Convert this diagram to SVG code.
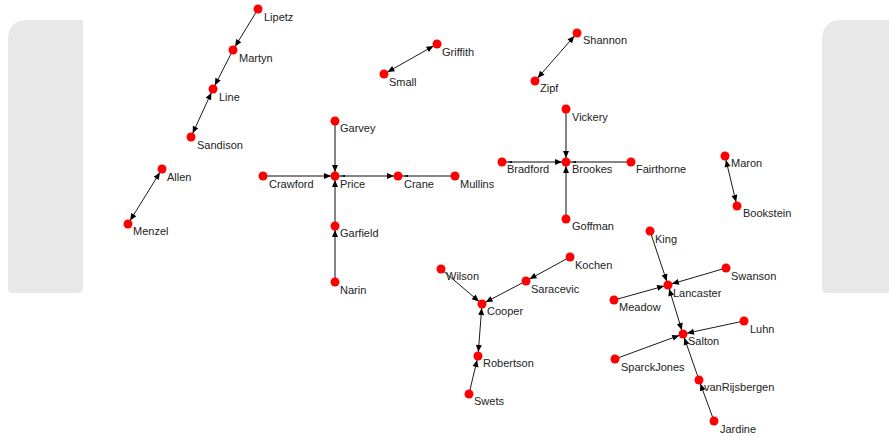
<svg xmlns="http://www.w3.org/2000/svg" width="889" height="437" viewBox="0 0 889 437">
<style>
.e{stroke:#1a1a1a;stroke-width:1;fill:none}
.g{stroke:#858585;stroke-width:2;fill:none}
.a{marker-end:url(#ah)}
.b{marker-start:url(#ah);marker-end:url(#ah)}
.n circle{fill:#ff0000}
.n text,text{font-family:"Liberation Sans",Arial,sans-serif;font-size:11px;fill:#222}
.panel{fill:#e8e8e8}
</style>
<defs>
<marker id="ah" markerUnits="userSpaceOnUse" markerWidth="12" markerHeight="8" refX="11" refY="3" orient="auto-start-reverse" overflow="visible">
<path d="M0,0 L7,3 L0,6 z" fill="#000"/>
</marker>
<marker id="tk" markerUnits="userSpaceOnUse" markerWidth="12" markerHeight="8" refX="10" refY="2" orient="auto-start-reverse" overflow="visible">
<path d="M0,1 L5,2 L0,3 z" fill="#000"/>
</marker>
</defs>
<rect width="889" height="437" fill="#ffffff"/>
<g id="panels">
<path class="panel" d="M8,40 Q8,20 28,20 L83,20 L83,288 Q83,293 78,293 L13,293 Q8,293 8,288 Z"/>
<path class="panel" d="M822,40 Q822,20 842,20 L889,20 L889,293 L827,293 Q822,293 822,288 Z"/>
</g>
<g id="connectors">
<line class="e a" x1="258" y1="9" x2="233" y2="50"/>
<line class="e a" x1="233" y1="50" x2="213" y2="89"/>
<line class="e b" x1="213" y1="89" x2="191" y2="137"/>
<line class="e b" x1="162" y1="169" x2="128" y2="224"/>
<line class="e b" x1="437" y1="44" x2="384" y2="74"/>
<line class="e b" x1="577" y1="33" x2="535" y2="81"/>
<line class="e b" x1="725" y1="156" x2="737" y2="206"/>
<line class="g a" x1="263" y1="176" x2="335" y2="176"/>
<line class="g a" x1="335" y1="121" x2="335" y2="176"/>
<line class="g a" x1="335" y1="226" x2="335" y2="176"/>
<line class="g a" x1="335" y1="282" x2="335" y2="226"/>
<line class="g a" x1="335" y1="176" x2="398" y2="176" marker-start="url(#tk)"/>
<line class="g" x1="455" y1="176" x2="398" y2="176" marker-end="url(#tk)"/>
<line class="g a" x1="502" y1="162" x2="566" y2="162" marker-start="url(#tk)"/>
<line class="g a" x1="566" y1="109" x2="566" y2="162"/>
<line class="g a" x1="566" y1="219" x2="566" y2="162"/>
<line class="g" x1="631" y1="162" x2="566" y2="162" marker-end="url(#tk)"/>
<line class="e a" x1="570" y1="257" x2="526" y2="281"/>
<line class="e a" x1="526" y1="281" x2="482" y2="304"/>
<line class="e a" x1="441" y1="269" x2="482" y2="304"/>
<line class="e b" x1="482" y1="304" x2="478" y2="356"/>
<line class="e a" x1="469" y1="394" x2="478" y2="356"/>
<line class="e a" x1="650" y1="231" x2="668" y2="285"/>
<line class="e a" x1="726" y1="268" x2="668" y2="285"/>
<line class="e a" x1="614" y1="300" x2="668" y2="285"/>
<line class="e b" x1="668" y1="285" x2="683" y2="334"/>
<line class="e a" x1="744" y1="321" x2="683" y2="334"/>
<line class="e a" x1="615" y1="359" x2="683" y2="334"/>
<line class="e a" x1="699" y1="380" x2="683" y2="334"/>
<line class="e a" x1="714" y1="421" x2="699" y2="380"/>
</g>
<g id="Lipetz" class="n"><circle cx="258" cy="9" r="4.5"/><text x="264" y="21">Lipetz</text></g>
<g id="Martyn" class="n"><circle cx="233" cy="50" r="4.5"/><text x="239" y="62">Martyn</text></g>
<g id="Line" class="n"><circle cx="213" cy="89" r="4.5"/><text x="219" y="101">Line</text></g>
<g id="Sandison" class="n"><circle cx="191" cy="137" r="4.5"/><text x="197" y="149">Sandison</text></g>
<g id="Allen" class="n"><circle cx="162" cy="169" r="4.5"/><text x="167" y="181">Allen</text></g>
<g id="Menzel" class="n"><circle cx="128" cy="224" r="4.5"/><text x="133" y="235">Menzel</text></g>
<g id="Griffith" class="n"><circle cx="437" cy="44" r="4.5"/><text x="442" y="56">Griffith</text></g>
<g id="Small" class="n"><circle cx="384" cy="74" r="4.5"/><text x="389" y="86">Small</text></g>
<g id="Shannon" class="n"><circle cx="577" cy="33" r="4.5"/><text x="583" y="44">Shannon</text></g>
<g id="Zipf" class="n"><circle cx="535" cy="81" r="4.5"/><text x="540" y="92">Zipf</text></g>
<g id="Garvey" class="n"><circle cx="335" cy="121" r="4.5"/><text x="340" y="132">Garvey</text></g>
<g id="Crawford" class="n"><circle cx="263" cy="176" r="4.5"/><text x="269" y="188">Crawford</text></g>
<g id="Price" class="n"><circle cx="335" cy="176" r="4.5"/><text x="340" y="188">Price</text></g>
<g id="Crane" class="n"><circle cx="398" cy="176" r="4.5"/><text x="404" y="188">Crane</text></g>
<g id="Mullins" class="n"><circle cx="455" cy="176" r="4.5"/><text x="460" y="188">Mullins</text></g>
<g id="Garfield" class="n"><circle cx="335" cy="226" r="4.5"/><text x="340" y="237">Garfield</text></g>
<g id="Narin" class="n"><circle cx="335" cy="282" r="4.5"/><text x="340" y="294">Narin</text></g>
<g id="Vickery" class="n"><circle cx="566" cy="109" r="4.5"/><text x="572" y="121">Vickery</text></g>
<g id="Bradford" class="n"><circle cx="502" cy="162" r="4.5"/><text x="507" y="173">Bradford</text></g>
<g id="Brookes" class="n"><circle cx="566" cy="162" r="4.5"/><text x="572" y="173">Brookes</text></g>
<g id="Fairthorne" class="n"><circle cx="631" cy="162" r="4.5"/><text x="636" y="173">Fairthorne</text></g>
<g id="Goffman" class="n"><circle cx="566" cy="219" r="4.5"/><text x="572" y="230">Goffman</text></g>
<g id="Maron" class="n"><circle cx="725" cy="156" r="4.5"/><text x="731" y="167">Maron</text></g>
<g id="Bookstein" class="n"><circle cx="737" cy="206" r="4.5"/><text x="743" y="217">Bookstein</text></g>
<g id="Kochen" class="n"><circle cx="570" cy="257" r="4.5"/><text x="575" y="269">Kochen</text></g>
<g id="Wilson" class="n"><circle cx="441" cy="269" r="4.5"/><text x="446" y="280">Wilson</text></g>
<g id="Saracevic" class="n"><circle cx="526" cy="281" r="4.5"/><text x="531" y="293">Saracevic</text></g>
<g id="Cooper" class="n"><circle cx="482" cy="304" r="4.5"/><text x="487" y="315">Cooper</text></g>
<g id="Robertson" class="n"><circle cx="478" cy="356" r="4.5"/><text x="483" y="367">Robertson</text></g>
<g id="Swets" class="n"><circle cx="469" cy="394" r="4.5"/><text x="474" y="405">Swets</text></g>
<g id="King" class="n"><circle cx="650" cy="231" r="4.5"/><text x="655" y="243">King</text></g>
<g id="Swanson" class="n"><circle cx="726" cy="268" r="4.5"/><text x="731" y="280">Swanson</text></g>
<g id="Lancaster" class="n"><circle cx="668" cy="285" r="4.5"/><text x="673" y="297">Lancaster</text></g>
<g id="Meadow" class="n"><circle cx="614" cy="300" r="4.5"/><text x="619" y="311">Meadow</text></g>
<g id="Luhn" class="n"><circle cx="744" cy="321" r="4.5"/><text x="750" y="333">Luhn</text></g>
<g id="Salton" class="n"><circle cx="683" cy="334" r="4.5"/><text x="688" y="345">Salton</text></g>
<g id="SparckJones" class="n"><circle cx="615" cy="359" r="4.5"/><text x="621" y="371">SparckJones</text></g>
<g id="vanRijsbergen" class="n"><circle cx="699" cy="380" r="4.5"/><text x="704" y="391">vanRijsbergen</text></g>
<g id="Jardine" class="n"><circle cx="714" cy="421" r="4.5"/><text x="720" y="433">Jardine</text></g>
</svg>
